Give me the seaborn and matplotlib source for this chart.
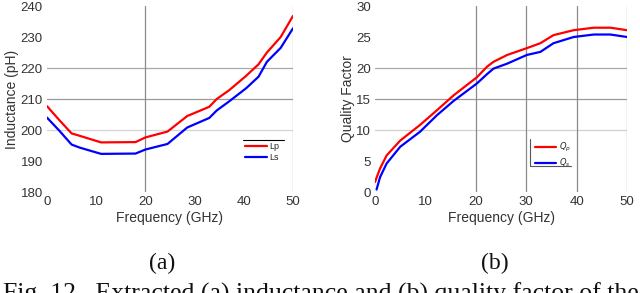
import numpy as np
import pandas as pd
import matplotlib
matplotlib.use("Agg")
import matplotlib.pyplot as plt
import seaborn as sns

# Data
freq_a = [0, 2.5, 5, 6.7, 11, 18, 20, 24.5, 28.5, 33, 34.5, 37, 40.5, 43, 44.7, 47.5, 50]
lp = [207.7, 203.2, 198.9, 198.1, 196.0, 196.1, 197.6, 199.5, 204.5, 207.5, 210.0,
      212.8, 217.5, 221.2, 225.0, 230.0, 236.8]
ls = [204.0, 199.8, 195.3, 194.3, 192.3, 192.4, 193.7, 195.5, 200.8, 203.9, 206.3,
      209.2, 213.5, 217.2, 222.0, 226.5, 232.8]

freq_b = [0, 0.3, 1, 2.3, 5, 8.9, 12.3, 15.6, 20.2, 22.2, 23.5, 26.2, 30.1, 32.8,
          35.4, 39.4, 43.4, 46.7, 50]
qp = [1.6, 2.3, 3.8, 5.9, 8.3, 10.8, 13.2, 15.6, 18.5, 20.2, 21.0, 22.1, 23.2, 24.0,
      25.3, 26.1, 26.5, 26.5, 26.1]
qs = [np.nan, 0.4, 2.4, 4.6, 7.3, 9.7, 12.4, 14.7, 17.5, 19.0, 19.9, 20.7, 22.1, 22.6,
      24.0, 25.0, 25.4, 25.4, 25.0]

xticks = [0, 10, 20, 30, 40, 50]
yticks_a = [180, 190, 200, 210, 220, 230, 240]
yticks_b = [0, 5, 10, 15, 20, 25, 30]

# odd partial grid lines seen in the figure: (value, colour)
hgrid_a = [(200, "#d4d4d4"), (210, "#9a9a9a"), (220, "#a8a8a8")]
vgrid_a = [(20, "#8a8a8a"), (50, "#a0a0a0")]
hgrid_b = [(10, "#d0d0d0"), (15, "#9a9a9a"), (20, "#a8a8a8")]
vgrid_b = [(20, "#8a8a8a"), (30, "#8a8a8a"), (40, "#8a8a8a"), (50, "#a0a0a0")]

df_a = pd.DataFrame({"f": freq_a * 2, "v": lp + ls,
                     "s": ["Lp"] * len(freq_a) + ["Ls"] * len(freq_a)})
df_b = pd.DataFrame({"f": freq_b * 2, "v": qp + qs,
                     "s": ["$Q_p$"] * len(freq_b) + ["$Q_s$"] * len(freq_b)})

sns.set_theme(style="white")
plt.rcParams["font.family"] = ["Liberation Sans", "DejaVu Sans"]
txt = "#333333"

fig = plt.figure(figsize=(6.4, 2.93), dpi=100)
ax_a = fig.add_axes([0.0734, 0.3447, 0.3844, 0.6348])
ax_b = fig.add_axes([0.5860, 0.3447, 0.3938, 0.6348])

panels = [
    (ax_a, df_a, ["#ff0000", "#0000ff"], yticks_a, "Inductance (pH)", hgrid_a, vgrid_a),
    (ax_b, df_b, ["#ff0000", "#0000ff"], yticks_b, "Quality Factor", hgrid_b, vgrid_b),
]

for ax, df, pal, yt, ylab, hg, vg in panels:
    for v, c in hg:
        ax.axhline(v, color=c, lw=0.9, zorder=0)
    for v, c in vg:
        ax.axvline(v, color=c, lw=0.9, zorder=0)
    sns.lineplot(data=df, x="f", y="v", hue="s", palette=pal, lw=1.6, ax=ax)
    ax.set_xlim(0, 50)
    ax.set_ylim(yt[0], yt[-1])
    ax.set_xticks(xticks)
    ax.set_yticks(yt)
    ax.tick_params(labelsize=9.5, colors=txt, length=0, pad=3)
    ax.set_xlabel("Frequency (GHz)", fontsize=10, color=txt, labelpad=2)
    ax.set_ylabel(ylab, fontsize=10, color=txt, labelpad=1)
    for sp in ax.spines.values():
        sp.set_visible(False)
    ax.set_facecolor("none")

ax_a.legend(loc="upper left", bbox_to_anchor=(0.79, 0.29), frameon=False,
            fontsize=6.5, handlelength=2.4, handletextpad=0.3,
            labelspacing=0.25, borderaxespad=0)
ax_a.plot([0.797, 0.963], [0.28, 0.28], color="black", lw=0.8,
          transform=ax_a.transAxes, clip_on=False)

ax_b.legend(loc="upper left", bbox_to_anchor=(0.62, 0.29), frameon=False,
            fontsize=6, handlelength=2.6, handletextpad=0.3,
            labelspacing=0.25, borderaxespad=0)
ax_b.plot([0.615, 0.615, 0.778], [0.285, 0.14, 0.14], color="#555555", lw=0.8,
          transform=ax_b.transAxes, clip_on=False)

serif = ["Liberation Serif", "DejaVu Serif"]
fig.text(162 / 640, 1 - 263 / 293, "(a)", ha="center", va="center",
         fontsize=17, family=serif, color="#111111")
fig.text(495 / 640, 1 - 263 / 293, "(b)", ha="center", va="center",
         fontsize=17, family=serif, color="#111111")
# caption is cut by the bottom edge in the original picture
fig.text(3 / 640, 1 - 283 / 293,
         "Fig. 12.  Extracted (a) inductance and (b) quality factor of the",
         ha="left", va="top", fontsize=18.5, family=serif, color="#111111")

fig.savefig("out.png", dpi=100)
